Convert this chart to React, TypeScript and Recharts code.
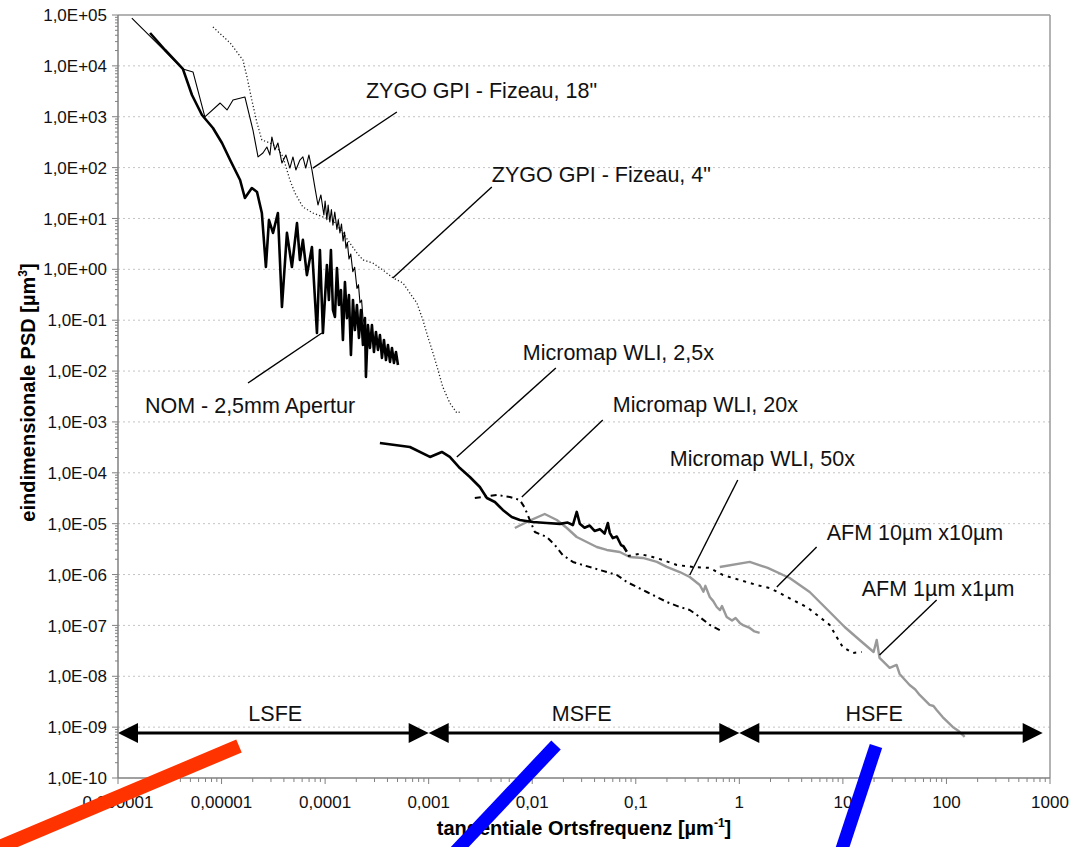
import React from 'react';
import { LineChart, Line, XAxis, YAxis, ReferenceLine, ReferenceDot } from 'recharts';

const W = 1086;
const H = 847;
const FONT = '"Liberation Sans", Arial, sans-serif';

// tangential spatial frequency [1/µm] and one-dimensional PSD [µm³] per instrument

// NOM – 2,5 mm aperture
const nomFreq = [
  2.04e-6, 2.85e-6, 4.23e-6, 5.18e-6, 6.47e-6, 8.26e-6, 1.01e-5, 1.21e-5, 1.51e-5, 1.68e-5,
  1.96e-5, 2.2e-5, 2.45e-5, 2.68e-5, 2.87e-5, 3.14e-5, 3.5e-5, 3.83e-5, 4.28e-5, 4.78e-5,
  5.35e-5, 5.71e-5, 6.1e-5, 6.67e-5, 7.46e-5, 8.34e-5, 8.91e-5, 9.53e-5,
  1.041e-4, 1.088e-4, 1.138e-4, 1.19e-4, 1.244e-4, 1.301e-4, 1.36e-4, 1.422e-4, 1.486e-4, 1.554e-4,
  1.625e-4, 1.699e-4, 1.776e-4, 1.857e-4, 1.941e-4, 2.029e-4, 2.122e-4, 2.218e-4, 2.319e-4, 2.425e-4,
  2.479e-4, 2.592e-4, 2.71e-4, 2.833e-4, 2.962e-4, 3.097e-4, 3.238e-4, 3.385e-4, 3.539e-4, 3.7e-4,
  3.869e-4, 4.045e-4, 4.229e-4, 4.421e-4, 4.622e-4, 4.833e-4, 5.053e-4,
];
const nomPsd = [
  4.43e4, 2.05e4, 8.7e3, 2.67e3, 1.08e3, 601, 305, 141, 57, 25.3,
  39.7, 33.2, 12.8, 1.11, 9.3, 5.2, 12.8, 0.182, 5.2, 1.11,
  8.1, 1.53, 3.8, 0.77, 2.75, 0.056, 2.4, 0.056,
  1.22, 0.25, 2.4, 0.159, 0.116, 1.06, 0.199, 0.393, 0.041, 0.564,
  0.11, 0.313, 0.0207, 0.25, 0.064, 0.199, 0.045, 0.159, 0.0326, 0.11,
  0.0077, 0.08, 0.0284, 0.08, 0.0237, 0.0587, 0.026, 0.0512, 0.0181, 0.0409,
  0.0165, 0.0326, 0.0151, 0.0284, 0.0144, 0.0237, 0.0132,
];

// ZYGO GPI Fizeau, 18"
const zygo18Freq = [
  1.36e-6, 4.23e-6, 5.3e-6, 6.9e-6, 9.7e-6, 1.13e-5, 1.29e-5, 1.68e-5, 2.01e-5, 2.25e-5,
  2.51e-5, 2.74e-5, 2.93e-5, 3.06e-5, 3.27e-5, 3.5e-5, 3.83e-5, 4.18e-5, 4.57e-5, 4.89e-5,
  5.22e-5, 5.71e-5, 6.1e-5, 6.5e-5, 6.98e-5, 7.46e-5, 7.98e-5, 8.53e-5, 9.1e-5, 9.73e-5,
  1.0e-4, 1.04e-4, 1.07e-4, 1.11e-4, 1.15e-4, 1.19e-4, 1.24e-4, 1.3e-4, 1.34e-4, 1.39e-4,
  1.44e-4, 1.49e-4, 1.54e-4, 1.59e-4, 1.64e-4, 1.7e-4, 1.77e-4, 1.85e-4, 1.93e-4, 2.03e-4,
  2.1e-4, 2.17e-4, 2.25e-4, 2.32e-4, 2.48e-4,
];
const zygo18Psd = [
  8.7e4, 8.7e3, 7.6e3, 990, 1860, 1360, 2130, 2450, 548, 162,
  194, 254, 177, 400, 222, 305, 123, 177, 98, 162,
  90, 141, 162, 98, 177, 90, 40, 18.4, 29, 11.7,
  22, 9.5, 18.4, 8.5, 15, 7.4, 13.4, 6.1, 9.5, 5.2,
  7.8, 3.6, 5.4, 2.6, 3.4, 1.6, 2.0, 0.9, 1.1, 0.42,
  0.5, 0.22, 0.25, 0.11, 0.064,
];

// ZYGO GPI Fizeau, 4"
const zygo4Freq = [
  8.26e-6, 1.21e-5, 1.61e-5, 1.76e-5, 1.96e-5, 2.2e-5, 2.45e-5, 2.93e-5, 3.43e-5, 3.92e-5,
  4.57e-5, 5.11e-5, 6.1e-5, 7.63e-5, 9.53e-5, 1.19e-4, 1.49e-4, 1.73e-4, 2.03e-4, 2.32e-4,
  2.89e-4, 3.61e-4, 4.51e-4, 5.64e-4, 6.59e-4, 7.7e-4, 8.79e-4, 9.82e-4, 1.1e-3, 1.23e-3,
  1.37e-3, 1.6e-3, 1.87e-3, 2.0e-3,
];
const zygo4Psd = [
  5.81e4, 2.82e4, 1.3e4, 6.04e3, 2.13e3, 753, 349, 305, 254, 162,
  57, 31.7, 16.8, 12.8, 10.7, 9.3, 5.2, 3.3, 2.1, 1.53,
  1.33, 0.97, 0.68, 0.54, 0.34, 0.218, 0.101, 0.0468, 0.0227, 0.0105,
  0.00486, 0.00236, 0.0015, 0.00157,
];

// Micromap WLI, 2,5x
const wli25Freq = [
  3.38e-4, 6.59e-4, 1.03e-3, 1.34e-3, 1.6e-3, 2.0e-3, 2.5e-3, 3.12e-3, 3.65e-3, 4.36e-3,
  5.2e-3, 6.35e-3, 7.59e-3, 1.01e-2, 1.38e-2, 1.85e-2, 2.2e-2, 2.47e-2, 2.69e-2, 2.88e-2,
  3.2e-2, 3.59e-2, 4.0e-2, 4.5e-2, 5.0e-2, 5.37e-2, 5.61e-2, 6.0e-2, 6.56e-2, 7.2e-2,
  7.6e-2, 8.19e-2,
];
const wli25Psd = [
  3.86e-4, 3.22e-4, 2.05e-4, 2.57e-4, 2.05e-4, 1.24e-4, 8.28e-5, 5.26e-5, 3.2e-5, 2.67e-5,
  1.86e-5, 1.35e-5, 1.18e-5, 1.08e-5, 1.03e-5, 9.9e-6, 1.05e-5, 9.4e-6, 1.7e-5, 1.0e-5,
  8.3e-6, 9.2e-6, 7.2e-6, 7.8e-6, 6.4e-6, 1.03e-5, 6.6e-6, 5.2e-6, 5.6e-6, 3.8e-6,
  3.6e-6, 2.8e-6,
];

// Micromap WLI, 20x
const wli20Freq = [
  2.79e-3, 4.55e-3, 6.08e-3, 7.59e-3, 8.49e-3, 9.48e-3, 1.06e-2, 1.38e-2, 1.65e-2, 1.97e-2,
  2.47e-2, 3.08e-2, 3.85e-2, 5.25e-2, 6.56e-2, 8.19e-2, 0.102, 0.128, 0.16, 0.199,
  0.266, 0.332, 0.415, 0.518, 0.647,
];
const wli20Psd = [
  3.2e-5, 3.66e-5, 3.35e-5, 2.92e-5, 2.04e-5, 1.18e-5, 6.87e-6, 5.47e-6, 3.81e-6, 2.42e-6,
  1.77e-6, 1.54e-6, 1.35e-6, 1.12e-6, 9.8e-7, 7.15e-7, 5.7e-7, 4.54e-7, 3.62e-7, 2.89e-7,
  2.3e-7, 2.01e-7, 1.46e-7, 1.02e-7, 8.1e-8,
];

// Micromap WLI, 50x
const wli50Freq = [
  6.79e-3, 8.87e-3, 1.32e-2, 1.73e-2, 2.16e-2, 2.69e-2, 3.36e-2, 4.2e-2, 5.25e-2, 7.01e-2,
  8.75e-2, 0.117, 0.16, 0.199, 0.266, 0.332, 0.415, 0.45, 0.47, 0.518,
  0.56, 0.605, 0.65, 0.68, 0.755, 0.85, 0.92, 1.01, 1.1, 1.26,
  1.4, 1.57,
];
const wli50Psd = [
  8.22e-6, 1.08e-5, 1.55e-5, 1.18e-5, 8.22e-6, 5.47e-6, 4.36e-6, 3.48e-6, 3.04e-6, 2.78e-6,
  2.21e-6, 2.12e-6, 1.77e-6, 1.41e-6, 1.12e-6, 8.95e-7, 6.23e-7, 4.6e-7, 6.0e-7, 3.62e-7,
  3.0e-7, 2.3e-7, 2.0e-7, 2.4e-7, 1.46e-7, 1.25e-7, 1.4e-7, 1.12e-7, 1.0e-7, 8.9e-8,
  7.6e-8, 7.1e-8,
];

// AFM, 10 µm x 10 µm scan
const afm10Freq = [
  8.38e-2, 0.109, 0.146, 0.182, 0.249, 0.355, 0.518, 0.691, 1.01, 1.47,
  1.96, 2.45, 3.27, 4.48, 5.97, 7.46, 8.71, 9.95, 12.4, 15.2,
];
const afm10Psd = [
  2.32e-6, 2.54e-6, 2.21e-6, 1.93e-6, 1.54e-6, 1.41e-6, 1.35e-6, 9.8e-7, 7.8e-7, 6.23e-7,
  5.44e-7, 4.34e-7, 3.16e-7, 2.3e-7, 1.46e-7, 1.02e-7, 5.93e-8, 3.77e-8, 2.87e-8, 3.0e-8,
];

// AFM, 1 µm x 1 µm scan
const afm1Freq = [
  0.647, 1.26, 1.88, 3.06, 4.78, 7.98, 10.4, 14.5, 19.8, 21.2,
  22.6, 28.3, 33.0, 35.3, 44.1, 50, 55.1, 68.8, 75, 80,
  91.9, 115, 130, 150,
];
const afm1Psd = [
  1.41e-6, 1.77e-6, 1.35e-6, 8.55e-7, 4.54e-7, 1.6e-7, 9.3e-8, 5.17e-8, 3.0e-8, 5.17e-8,
  2.29e-8, 1.46e-8, 1.67e-8, 1.11e-8, 6.74e-9, 5.5e-9, 4.29e-9, 2.73e-9, 2.6e-9, 2.2e-9,
  1.58e-9, 1.01e-9, 8.5e-10, 6.41e-10,
];

// axes
const xDecades = [1e-6, 1e-5, 1e-4, 1e-3, 1e-2, 1e-1, 1, 10, 100, 1000];
const xTickLabels = ['0,000001', '0,00001', '0,0001', '0,001', '0,01', '0,1', '1', '10', '100', '1000'];
const yDecades = [1e-10, 1e-9, 1e-8, 1e-7, 1e-6, 1e-5, 1e-4, 1e-3, 1e-2, 1e-1, 1, 10, 100, 1e3, 1e4, 1e5];
const yTickLabels = [
  '1,0E-10', '1,0E-09', '1,0E-08', '1,0E-07', '1,0E-06', '1,0E-05', '1,0E-04', '1,0E-03',
  '1,0E-02', '1,0E-01', '1,0E+00', '1,0E+01', '1,0E+02', '1,0E+03', '1,0E+04', '1,0E+05',
];

// spatial frequency error bands
const bandNames = ['LSFE', 'MSFE', 'HSFE'];
const bandFrom = [1e-6, 1e-3, 1];
const bandTo = [1e-3, 1, 850];
const bandLabelFreq = [3.3e-5, 0.03, 20];
const bandArrowPsd = 7.7e-10;
const bandLabelPsd = 1.35e-9;

const toPoints = (f: number[], p: number[]) => f.map((x, i) => ({ x, y: p[i] }));

const series = [
  { key: 'zygo4', data: toPoints(zygo4Freq, zygo4Psd), stroke: '#222', width: 1.3, dash: '1.2 2.2' },
  { key: 'zygo18', data: toPoints(zygo18Freq, zygo18Psd), stroke: '#000', width: 1.1 },
  { key: 'nom', data: toPoints(nomFreq, nomPsd), stroke: '#000', width: 2.6 },
  { key: 'wli50', data: toPoints(wli50Freq, wli50Psd), stroke: '#999', width: 2.4 },
  { key: 'afm1', data: toPoints(afm1Freq, afm1Psd), stroke: '#999', width: 2.4 },
  { key: 'wli20', data: toPoints(wli20Freq, wli20Psd), stroke: '#000', width: 2, dash: '6 4 2 4' },
  { key: 'afm10', data: toPoints(afm10Freq, afm10Psd), stroke: '#000', width: 2, dash: '3 5' },
  { key: 'wli25', data: toPoints(wli25Freq, wli25Psd), stroke: '#000', width: 2.6 },
];

// label text, its anchor, and the leader from curve to label
const callouts = [
  { text: 'ZYGO GPI - Fizeau, 18"', at: { x: 2.48e-4, y: 2335 }, from: { x: 7.62e-5, y: 98 }, to: { x: 4.93e-4, y: 1240 } },
  { text: 'ZYGO GPI - Fizeau, 4"', at: { x: 4.07e-3, y: 52 }, from: { x: 4.51e-4, y: 0.676 }, to: { x: 4.07e-3, y: 41.6 } },
  { text: 'NOM - 2,5mm Apertur', at: { x: 1.82e-6, y: 1.5e-3 }, from: { x: 9.31e-5, y: 0.0561 }, to: { x: 1.8e-5, y: 5.83e-3 } },
  { text: 'Micromap WLI, 2,5x', at: { x: 8.11e-3, y: 0.0165 }, from: { x: 1.87e-3, y: 2.05e-4 }, to: { x: 1.69e-2, y: 0.0115 } },
  { text: 'Micromap WLI, 20x', at: { x: 0.06, y: 1.57e-3 }, from: { x: 7.94e-3, y: 3.35e-5 }, to: { x: 4.8e-2, y: 1.09e-3 } },
  { text: 'Micromap WLI, 50x', at: { x: 0.213, y: 1.36e-4 }, from: { x: 0.332, y: 9.8e-7 }, to: { x: 0.966, y: 7.23e-5 } },
  { text: 'AFM 10µm x10µm', at: { x: 6.98, y: 4.79e-6 }, from: { x: 2.3, y: 5.7e-7 }, to: { x: 5.58, y: 3.48e-6 } },
  { text: 'AFM 1µm x1µm', at: { x: 15.2, y: 3.79e-7 }, from: { x: 22.6, y: 2.62e-8 }, to: { x: 80.4, y: 3.16e-7 } },
];

const minorsOf = (decades: number[]) =>
  decades.slice(0, -1).flatMap((d) => [2, 3, 4, 5, 6, 7, 8, 9].map((m) => d * m));
const majorIndex = (decades: number[], v: number) => decades.findIndex((d) => Math.abs(v / d - 1) < 1e-6);

const xTicks = [...xDecades, ...minorsOf(xDecades)].sort((a, b) => a - b);
const yTicks = [...yDecades, ...minorsOf(yDecades)].sort((a, b) => a - b);

const AXIS = '#808080';

const XTick = (props: any) => {
  const { x, y, payload } = props;
  const i = majorIndex(xDecades, payload.value);
  return (
    <g>
      <line x1={x} x2={x} y1={y} y2={y + (i >= 0 ? 6 : 4)} stroke={AXIS} strokeWidth={1} />
      {i >= 0 && (
        <text x={x} y={y + 30} textAnchor="middle" fontSize={17} fill="#111" fontFamily={FONT}>
          {xTickLabels[i]}
        </text>
      )}
    </g>
  );
};

const YTick = (props: any) => {
  const { x, y, payload } = props;
  const i = majorIndex(yDecades, payload.value);
  return (
    <g>
      <line x1={x - (i >= 0 ? 6 : 3)} x2={x} y1={y} y2={y} stroke={AXIS} strokeWidth={1} />
      {i >= 0 && (
        <text x={x - 11} y={y} dy="0.36em" textAnchor="end" fontSize={17} fill="#111" fontFamily={FONT}>
          {yTickLabels[i]}
        </text>
      )}
    </g>
  );
};

const XTitle = (props: any) => {
  const { x, y, width, height } = props.viewBox;
  return (
    <text x={x + width / 2} y={y + height - 12} textAnchor="middle" fontSize={20} fontWeight="bold" fill="#000" fontFamily={FONT}>
      tangentiale Ortsfrequenz [µm
      <tspan dy={-8} fontSize={12}>-1</tspan>
      <tspan dy={8}>]</tspan>
    </text>
  );
};

const YTitle = (props: any) => {
  const { x, y, height } = props.viewBox;
  const cx = x + 35;
  const cy = y + height / 2 - 4;
  return (
    <text x={cx} y={cy} transform={`rotate(-90 ${cx} ${cy})`} textAnchor="middle" fontSize={20} fontWeight="bold" fill="#000" fontFamily={FONT}>
      eindimensionale PSD [µm
      <tspan dy={-8} fontSize={12}>3</tspan>
      <tspan dy={8}>]</tspan>
    </text>
  );
};

const BandArrow = (props: any) => {
  const { x1, y1, x2, y2 } = props;
  const len = 20;
  const half = 10;
  return (
    <g>
      <line x1={x1 + len - 2} y1={y1} x2={x2 - len + 2} y2={y2} stroke="#000" strokeWidth={3} />
      <polygon points={`${x1},${y1} ${x1 + len},${y1 - half} ${x1 + len},${y1 + half}`} fill="#000" />
      <polygon points={`${x2},${y2} ${x2 - len},${y2 - half} ${x2 - len},${y2 + half}`} fill="#000" />
    </g>
  );
};

const textShape = (text: string, anchor: 'start' | 'middle') => (p: any) => (
  <text x={p.cx} y={p.cy} textAnchor={anchor} fontSize={21.5} fill="#111" fontFamily={FONT}>
    {text}
  </text>
);

export default function App() {
  return (
    <div style={{ position: 'absolute', left: 0, top: 0, width: W, height: H, background: '#fff', fontFamily: FONT }}>
      <LineChart width={W} height={H} margin={{ top: 15, right: 36, bottom: 0, left: 0 }}>
        <XAxis
          type="number"
          dataKey="x"
          scale="log"
          domain={[1e-6, 1000]}
          allowDataOverflow
          ticks={xTicks}
          interval={0}
          tick={<XTick />}
          tickLine={false}
          tickSize={0}
          tickMargin={0}
          height={69}
          axisLine={{ stroke: AXIS, strokeWidth: 1.5 }}
          label={(p: any) => <XTitle {...p} />}
        />
        <YAxis
          type="number"
          dataKey="y"
          scale="log"
          domain={[1e-10, 1e5]}
          allowDataOverflow
          ticks={yTicks}
          interval={0}
          tick={<YTick />}
          tickLine={false}
          tickSize={0}
          tickMargin={0}
          width={118}
          axisLine={{ stroke: AXIS, strokeWidth: 1.5 }}
          label={(p: any) => <YTitle {...p} />}
        />

        {yDecades.slice(1, -1).map((v) => (
          <ReferenceLine key={`g${v}`} y={v} stroke="#c4c4c4" strokeDasharray="2 3" strokeWidth={1} />
        ))}
        <ReferenceLine y={1e5} stroke="#9a9a9a" strokeWidth={1.5} />
        <ReferenceLine x={1000} stroke="#9a9a9a" strokeWidth={1.5} />

        {series.map((s) => (
          <Line
            key={s.key}
            data={s.data}
            dataKey="y"
            type="linear"
            stroke={s.stroke}
            strokeWidth={s.width}
            strokeDasharray={s.dash}
            strokeLinejoin="round"
            dot={false}
            activeDot={false}
            isAnimationActive={false}
          />
        ))}

        {callouts.map((c) => (
          <ReferenceLine key={`l${c.text}`} segment={[c.from, c.to]} stroke="#000" strokeWidth={1.4} />
        ))}
        {callouts.map((c) => (
          <ReferenceDot key={`t${c.text}`} x={c.at.x} y={c.at.y} r={0} shape={textShape(c.text, 'start')} />
        ))}

        {bandNames.map((name, i) => (
          <ReferenceLine
            key={`a${name}`}
            segment={[
              { x: bandFrom[i], y: bandArrowPsd },
              { x: bandTo[i], y: bandArrowPsd },
            ]}
            shape={BandArrow}
          />
        ))}
        {bandNames.map((name, i) => (
          <ReferenceDot key={`b${name}`} x={bandLabelFreq[i]} y={bandLabelPsd} r={0} shape={textShape(name, 'middle')} />
        ))}
      </LineChart>

      {/* hand-drawn marker strokes over the figure */}
      <svg width={W} height={H} style={{ position: 'absolute', left: 0, top: 0, pointerEvents: 'none' }}>
        <line x1={-5} y1={849} x2={239} y2={746} stroke="#ff3300" strokeWidth={14} />
        <line x1={556} y1={745} x2={455} y2={852} stroke="#0000ff" strokeWidth={13} />
        <line x1={876} y1={746} x2={841} y2={852} stroke="#0000ff" strokeWidth={13} />
      </svg>
    </div>
  );
}
